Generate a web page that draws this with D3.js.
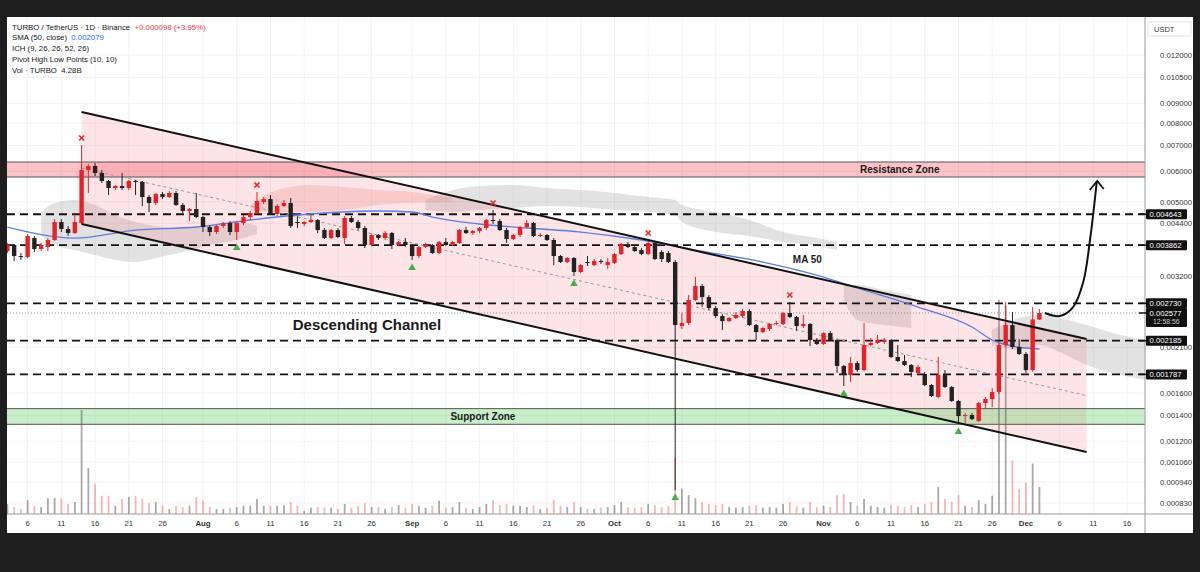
<!DOCTYPE html>
<html><head><meta charset="utf-8">
<script src="https://cdn.jsdelivr.net/npm/d3@7"></script>
<style>body{margin:0;background:#1e1e1e;}svg{display:block}</style>
</head><body><svg id="c" width="1200" height="572"></svg>
<script>
// ---------------- DATA ----------------
const startDay = "2025-07-03"; // first candle, daily bars
const open = [0.003729,0.003865,0.003619,0.003598,0.004029,0.003774,0.003819,0.003982,0.004433,0.004252,
0.004151,0.004407,0.006044,0.006190,0.005937,0.005661,0.005429,0.005494,0.005429,0.005661,
0.005627,0.005145,0.004965,0.005238,0.005145,0.005270,0.004906,0.004734,0.004790,0.004567,
0.004303,0.004176,0.004329,0.004407,0.004176,0.004407,0.004567,0.004678,0.004994,0.005084,
0.004650,0.004877,0.004965,0.004433,0.004381,0.004433,0.004486,0.004226,0.004029,0.004226,
0.004029,0.004540,0.004433,0.004277,0.003865,0.004102,0.004029,0.004151,0.003865,0.003935,
0.003865,0.003619,0.003819,0.003865,0.003685,0.003935,0.003865,0.003911,0.004226,0.004151,
0.004201,0.004277,0.004486,0.004459,0.004226,0.004005,0.004102,0.004303,0.004407,0.004078,
0.004102,0.003982,0.003619,0.003492,0.003576,0.003290,0.003492,0.003430,0.003513,0.003430,
0.003471,0.003663,0.003888,0.003819,0.003751,0.003663,0.003911,0.003707,0.003685,0.003492,
0.002384,0.002427,0.002784,0.003027,0.002834,0.002654,0.002531,0.002456,0.002501,0.002531,
0.002607,0.002398,0.002300,0.002342,0.002413,0.002413,0.002576,0.002516,0.002384,0.002413,
0.002193,0.002142,0.002287,0.002193,0.001879,0.001780,0.001913,0.001834,0.002129,0.002155,
0.002168,0.002193,0.001982,0.001935,0.001890,0.001802,0.001791,0.001677,0.001562,0.001780,
0.001657,0.001525,0.001394,0.001402,0.001353,0.001507,0.001543,0.001609,0.002129,0.002398,
0.002104,0.002018,0.001834,0.002479];
const high = [0.003911,0.003888,0.003685,0.004127,0.004078,0.003911,0.004029,0.004513,0.004513,0.004329,
0.004650,0.007016,0.006265,0.006302,0.006044,0.005694,0.005527,0.005937,0.005694,0.005694,
0.005661,0.005207,0.005270,0.005301,0.005333,0.005333,0.004965,0.004819,0.005270,0.004595,
0.004354,0.004354,0.004433,0.004459,0.004433,0.004622,0.004734,0.005301,0.005145,0.005207,
0.004935,0.005054,0.005115,0.004595,0.004459,0.004622,0.004513,0.004277,0.004252,0.004277,
0.004595,0.004595,0.004486,0.004329,0.004127,0.004127,0.004201,0.004176,0.003958,0.004029,
0.003888,0.003842,0.003911,0.003888,0.003958,0.004029,0.003958,0.004252,0.004303,0.004226,
0.004303,0.004513,0.004762,0.004513,0.004277,0.004127,0.004329,0.004486,0.004433,0.004151,
0.004127,0.004029,0.003641,0.003598,0.003598,0.003451,0.003619,0.003555,0.003555,0.003576,
0.003685,0.003911,0.003935,0.003865,0.003796,0.003982,0.003935,0.003751,0.003729,0.003534,
0.002576,0.002868,0.003193,0.003063,0.002868,0.002686,0.002561,0.002516,0.002592,0.002638,
0.002638,0.002413,0.002370,0.002427,0.002456,0.002592,0.002751,0.002531,0.002546,0.002427,
0.002220,0.002300,0.002314,0.002206,0.001890,0.001982,0.001935,0.002427,0.002220,0.002260,
0.002220,0.002206,0.002129,0.002006,0.001901,0.001890,0.001813,0.001687,0.001982,0.001834,
0.001667,0.001534,0.001419,0.001419,0.001516,0.001562,0.001648,0.002155,0.002751,0.002592,
0.002206,0.002042,0.002670,0.002638];
const low = [0.003685,0.003513,0.003534,0.003576,0.003707,0.003729,0.003729,0.003958,0.004176,0.004078,
0.004127,0.004381,0.005270,0.005832,0.005594,0.005207,0.005365,0.005365,0.005365,0.005207,
0.004877,0.004706,0.004906,0.005084,0.005115,0.004877,0.004678,0.004459,0.004540,0.004176,
0.004078,0.004127,0.004277,0.004102,0.003982,0.004354,0.004486,0.004650,0.004935,0.004622,
0.004595,0.004848,0.004277,0.004277,0.004329,0.004407,0.004151,0.004005,0.004005,0.004029,
0.003888,0.004407,0.004226,0.003796,0.003842,0.003982,0.003982,0.003774,0.003842,0.003819,
0.003534,0.003576,0.003796,0.003663,0.003663,0.003842,0.003842,0.003888,0.004127,0.004102,
0.004151,0.004226,0.004381,0.004201,0.003911,0.003982,0.004053,0.004277,0.004053,0.004053,
0.003958,0.003430,0.003471,0.003471,0.003213,0.003270,0.003410,0.003410,0.003451,0.003349,
0.003451,0.003641,0.003796,0.003707,0.003641,0.003641,0.003534,0.003492,0.003471,0.000897,
0.002342,0.002398,0.002768,0.002670,0.002623,0.002501,0.002328,0.002442,0.002486,0.002501,
0.002384,0.002193,0.002287,0.002314,0.002398,0.002398,0.002501,0.002314,0.002356,0.002116,
0.002129,0.002129,0.002180,0.001802,0.001667,0.001707,0.001813,0.001823,0.002116,0.002142,
0.002142,0.001970,0.001924,0.001879,0.001759,0.001791,0.001667,0.001562,0.001552,0.001648,
0.001516,0.001329,0.001337,0.001361,0.001345,0.001462,0.001471,0.001590,0.002104,0.002079,
0.002006,0.001802,0.001813,0.002471];
const close = [0.003865,0.003619,0.003598,0.004078,0.003774,0.003865,0.003982,0.004433,0.004252,0.004151,
0.004433,0.006044,0.006190,0.005937,0.005661,0.005429,0.005494,0.005429,0.005661,0.005627,
0.005145,0.004965,0.005238,0.005145,0.005270,0.004906,0.004734,0.004790,0.004567,0.004303,
0.004176,0.004329,0.004407,0.004176,0.004407,0.004567,0.004678,0.005024,0.005084,0.004650,
0.004877,0.004965,0.004329,0.004407,0.004433,0.004486,0.004226,0.004029,0.004226,0.004053,
0.004540,0.004433,0.004277,0.003865,0.004102,0.004029,0.004151,0.003865,0.003935,0.003865,
0.003619,0.003819,0.003865,0.003685,0.003935,0.003865,0.003935,0.004226,0.004151,0.004201,
0.004277,0.004486,0.004459,0.004226,0.004005,0.004102,0.004303,0.004407,0.004078,0.004102,
0.003982,0.003619,0.003492,0.003576,0.003290,0.003430,0.003471,0.003513,0.003492,0.003492,
0.003663,0.003888,0.003819,0.003729,0.003663,0.003911,0.003555,0.003555,0.003492,0.002398,
0.002427,0.002784,0.003027,0.002834,0.002654,0.002531,0.002456,0.002501,0.002546,0.002607,
0.002398,0.002300,0.002356,0.002413,0.002427,0.002576,0.002516,0.002384,0.002413,0.002193,
0.002142,0.002287,0.002193,0.001879,0.001780,0.001913,0.001834,0.002129,0.002155,0.002193,
0.002193,0.001982,0.001935,0.001890,0.001813,0.001867,0.001677,0.001571,0.001780,0.001657,
0.001525,0.001394,0.001402,0.001369,0.001507,0.001543,0.001609,0.002129,0.002398,0.002104,
0.002018,0.001834,0.002479,0.002577];
// volume, billions of TURBO
const volume = [1.6,1.1,0.8,2.2,1.3,1.1,2.5,2.5,2.5,1.6,
1.9,16.5,7.3,4.8,2.9,2.9,1.3,2.4,2.7,2.9,
2.4,1.7,1.9,1.3,0.8,1.3,1.1,1.3,2.7,2.1,
1.1,0.8,0.8,1.0,1.1,1.3,1.3,2.4,1.3,1.3,
1.3,1.4,1.9,1.3,0.5,1.0,1.1,1.0,1.0,0.8,
1.6,1.0,1.3,1.7,1.1,1.1,0.8,1.1,1.4,1.0,
1.6,1.3,1.0,1.3,2.1,1.0,1.1,1.9,1.0,0.8,
1.1,1.6,2.2,1.4,1.6,1.3,1.3,1.1,1.4,0.8,
1.0,2.2,1.3,1.1,1.9,1.1,0.8,0.8,1.0,1.1,
1.4,1.9,1.1,1.0,1.1,1.6,1.4,1.1,1.3,9.0,
4.0,3.0,2.5,1.9,1.6,1.4,1.6,1.1,1.0,1.1,
1.3,1.4,1.0,1.1,1.0,1.6,1.9,1.3,1.0,1.9,
1.1,1.3,1.1,3.0,3.2,1.9,1.3,2.4,1.3,1.1,
1.0,1.4,1.3,1.1,1.4,1.1,1.6,1.9,4.3,2.4,
1.9,3.0,1.3,1.1,2.2,1.6,2.9,34,33,8.5,
4.0,5.0,8.0,4.28];

// SMA(50) at sample days (day index from startDay)
const smaDays   = [0,10,19,28,36,43,55,60,63,70,77,85,94,102,112,121,126,135,143,146,149,153];
const smaValues = [0.004303,0.004029,0.004226,0.004303,0.004486,0.004622,0.004734,0.004706,0.004567,0.004381,
0.004277,0.004176,0.003982,0.003751,0.003492,0.003193,0.002991,0.002670,0.002370,0.002193,0.002116,0.002079];

// Ichimoku cloud pieces: [day, upper, lower]
const cloudGray1 = [[5,0.004706,0.004102],[7,0.004965,0.003865],[10,0.005054,0.003751],[13,0.004906,0.003641],[16,0.004622,0.003534],[19,0.004433,0.003492],[22,0.004329,0.003576],[26,0.004277,0.003707],[30,0.004354,0.003865],[34,0.004433,0.003982],[37,0.004329,0.004127]];
const cloudPink1 = [[36,0.004906,0.004762],[40,0.005365,0.004706],[45,0.005527,0.004706],[50,0.005462,0.004762],[55,0.005365,0.004906],[60,0.005301,0.004965],[66,0.005115,0.004994]];
const cloudGray2 = [[62,0.005054,0.004762],[66,0.005365,0.004706],[70,0.005494,0.004762],[75,0.005527,0.004819],[80,0.005429,0.004877],[85,0.005365,0.004848],[90,0.005270,0.004762],[95,0.005145,0.004706],[99,0.005054,0.004622],[100,0.004906,0.004433],[105,0.004706,0.004176],[110,0.004486,0.004078],[115,0.004176,0.003935],[120,0.004029,0.003842],[123,0.003935,0.003751]];
const cloudGray3 = [[124,0.003045,0.002784],[126,0.003045,0.002471],[130,0.002955,0.002398],[134,0.002868,0.002356]];
const cloudGray4 = [[146,0.002328,0.002129],[150,0.002501,0.002066],[153,0.002546,0.002129],[156,0.002501,0.002042],[160,0.002398,0.001890],[165,0.002260,0.001780],[169,0.002193,0.001728]];

// Pivot points (day index)
const pivotHighDays = [11,37,72,95,116];
const pivotLowDays  = [34,60,84,99,124,141];

// Drawing-tool values
const channelDays  = [11,160];
const channelUpper = [0.008542,0.002206];
const channelMid   = [0.006117,0.001575];
const channelLower = [0.004381,0.001125];
const resistanceZone = [0.005797,0.006340];
const supportZone    = [0.001327,0.001457];
const levels = [0.004643,0.003862,0.002730,0.002185,0.001787];
const lastPrice = 0.002577;
const arrowDays   = [153.8,156,158,159.5,160.5,161.5];
const arrowPrices = [0.002576,0.002531,0.002670,0.003100,0.003982,0.005627];

const priceTicks = [0.012,0.0105,0.009,0.008,0.007,0.006,0.005,0.0044,0.0032,0.0021,0.0016,0.0014,0.0012,0.00106,0.00094,0.00083];
const timeTicks = ["2025-07-06","2025-07-11","2025-07-16","2025-07-21","2025-07-26","2025-08-01","2025-08-06","2025-08-11","2025-08-16","2025-08-21","2025-08-26",
"2025-09-01","2025-09-06","2025-09-11","2025-09-16","2025-09-21","2025-09-26","2025-10-01","2025-10-06","2025-10-11","2025-10-16","2025-10-21","2025-10-26",
"2025-11-01","2025-11-06","2025-11-11","2025-11-16","2025-11-21","2025-11-26","2025-12-01","2025-12-06","2025-12-11","2025-12-16"];
const monthNames = ["Jan","Feb","Mar","Apr","May","Jun","Jul","Aug","Sep","Oct","Nov","Dec"];

// ---------------- LAYOUT ----------------
const P = {x0:7, y0:17, x1:1193, y1:533, plotR:1145, axisT:514};
const FONT = "'Liberation Sans', Arial, sans-serif";
const svg = d3.select("#c");
const t0 = new Date(startDay+"T00:00:00Z");
const dayDate = i => new Date(t0.getTime() + i*864e5);
const x = d3.scaleUtc().domain([t0, dayDate(166)]).range([7.4, 1127.1]);
const y = d3.scaleLog().domain([0.00083, 0.012]).range([503, 55]);
const yv = d3.scaleLinear().domain([0, 20]).range([P.axisT, P.axisT - 126]);
const xd = i => x(dayDate(i));

svg.append("rect").attr("width",1200).attr("height",572).attr("fill","#1e1e1e");
svg.append("rect").attr("x",P.x0).attr("y",P.y0).attr("width",P.x1-P.x0).attr("height",P.y1-P.y0).attr("fill","#fff");

svg.append("defs").append("clipPath").attr("id","plot").append("rect")
  .attr("x",P.x0).attr("y",P.y0).attr("width",P.plotR-P.x0).attr("height",P.axisT-P.y0);
const g = svg.append("g").attr("clip-path","url(#plot)");

// grid
const tickDates = timeTicks.map(s=>new Date(s+"T00:00:00Z"));
g.selectAll(".vg").data(tickDates).join("line").attr("x1",d=>x(d)).attr("x2",d=>x(d))
  .attr("y1",P.y0).attr("y2",P.axisT).attr("stroke","#f1f1f4").attr("stroke-width",1);
g.selectAll(".hg").data(priceTicks).join("line").attr("x1",P.x0).attr("x2",P.plotR)
  .attr("y1",d=>y(d)).attr("y2",d=>y(d)).attr("stroke","#f1f1f4").attr("stroke-width",1);

// cloud
const cloudArea = d3.area().x(d=>xd(d[0])).y0(d=>y(d[2])).y1(d=>y(d[1])).curve(d3.curveMonotoneX);
[[cloudGray1,"rgba(150,150,156,0.28)"],[cloudPink1,"rgba(235,120,120,0.22)"],[cloudGray2,"rgba(150,150,156,0.28)"],
 [cloudGray3,"rgba(150,150,156,0.28)"],[cloudGray4,"rgba(150,150,156,0.28)"]].forEach(([d,c])=>{
  g.append("path").attr("d",cloudArea(d)).attr("fill",c);
});

// channel fill
const chPts = channelDays.map((d,i)=>[xd(d), y(channelUpper[i])]).concat(
  channelDays.slice().reverse().map((d,k)=>{const i=channelDays.length-1-k;return [xd(d), y(channelLower[i])];}));
g.append("path").attr("d","M"+chPts.map(p=>p.join(",")).join("L")+"Z").attr("fill","rgba(242,54,69,0.13)");

// zones
function zone(z, fill){
  g.append("rect").attr("x",P.x0).attr("width",P.plotR-P.x0).attr("y",y(z[1])).attr("height",y(z[0])-y(z[1])).attr("fill",fill);
  z.forEach(v=>g.append("line").attr("x1",P.x0).attr("x2",P.plotR).attr("y1",y(v)).attr("y2",y(v)).attr("stroke","#555").attr("stroke-width",1));
}
zone(resistanceZone,"rgba(242,54,69,0.30)");
zone(supportZone,"rgba(76,200,80,0.30)");

// volume
g.selectAll(".vol").data(volume).join("rect")
  .attr("x",(v,i)=>xd(i)-0.9).attr("width",1.8)
  .attr("y",v=>yv(v)).attr("height",v=>P.axisT-yv(v))
  .attr("fill",(v,i)=>close[i]>=open[i]?"rgba(110,110,110,0.6)":"rgba(240,90,90,0.45)");

// dashed levels
g.selectAll(".lvl").data(levels).join("line").attr("x1",P.x0).attr("x2",P.plotR)
  .attr("y1",d=>y(d)).attr("y2",d=>y(d)).attr("stroke","#111").attr("stroke-width",1.8).attr("stroke-dasharray","8,5");
g.append("line").attr("x1",P.x0).attr("x2",P.plotR).attr("y1",y(lastPrice)).attr("y2",y(lastPrice))
  .attr("stroke","#777").attr("stroke-width",0.8).attr("stroke-dasharray","1,2");

// channel midline
g.append("line").attr("x1",xd(channelDays[0])).attr("x2",xd(channelDays[1])).attr("y1",y(channelMid[0])).attr("y2",y(channelMid[1]))
  .attr("stroke","#999").attr("stroke-width",1).attr("stroke-dasharray","3,3");

// SMA
g.append("path").attr("d",d3.line().x((d,i)=>xd(smaDays[i])).y(d=>y(d)).curve(d3.curveMonotoneX)(smaValues))
  .attr("fill","none").attr("stroke","#5b7ee0").attr("stroke-width",1.3);

// candles
const RED="#e82127", BLK="#222";
const cg = g.append("g");
open.forEach((o,i)=>{
  const c=close[i], up=c>=o, col=up?RED:BLK, cx=xd(i);
  cg.append("line").attr("x1",cx).attr("x2",cx).attr("y1",y(high[i])).attr("y2",y(low[i])).attr("stroke",col).attr("stroke-width",1);
  const yt=y(Math.max(o,c)), yb=y(Math.min(o,c));
  cg.append("rect").attr("x",cx-2.2).attr("width",4.4).attr("y",yt).attr("height",Math.max(1,yb-yt)).attr("fill",col);
});

// channel lines
[channelUpper,channelLower].forEach(arr=>{
  g.append("line").attr("x1",xd(channelDays[0])).attr("x2",xd(channelDays[1])).attr("y1",y(arr[0])).attr("y2",y(arr[1]))
   .attr("stroke","#111").attr("stroke-width",2);
});

// pivots
pivotHighDays.forEach(i=>{
  const cx=xd(i), cy=y(high[i])-7;
  g.append("path").attr("d",`M${cx-2.5},${cy-2.5}L${cx+2.5},${cy+2.5}M${cx+2.5},${cy-2.5}L${cx-2.5},${cy+2.5}`)
   .attr("stroke","#e8262b").attr("stroke-width",1.6);
});
pivotLowDays.forEach(i=>{
  const cx=xd(i), cy=y(low[i])+7;
  g.append("path").attr("d",`M${cx},${cy-3.5}L${cx+3.8},${cy+3}L${cx-3.8},${cy+3}Z`).attr("fill","#43b047");
});

// annotations
function label(txt, day, price, size, anchor){
  return g.append("text").attr("x",xd(day)).attr("y",y(price)).attr("text-anchor",anchor)
    .attr("font-family",FONT).attr("font-weight","bold").attr("font-size",size).attr("fill","#1a1a1a").text(txt);
}
label("Descending Channel", 42.3, 0.002328, 15, "start");
label("MA 50", 118.6, 0.003471, 10, "middle");
label("Resistance Zone", 132.3, Math.sqrt(resistanceZone[0]*resistanceZone[1]), 10, "middle").attr("dy","0.35em");
label("Support Zone", 70.5, Math.sqrt(supportZone[0]*supportZone[1]), 10, "middle").attr("dy","0.35em");

// arrow
const arrowLine = d3.line().x((d,i)=>xd(arrowDays[i])).y(d=>y(d)).curve(d3.curveCatmullRom);
svg.append("path").attr("d",arrowLine(arrowPrices)).attr("fill","none").attr("stroke","#111").attr("stroke-width",2);
{
  const n=arrowDays.length, tx=xd(arrowDays[n-1]), ty=y(arrowPrices[n-1]);
  svg.append("path").attr("d",`M${tx-7},${ty+8}L${tx+0.5},${ty-1}L${tx+7},${ty+7}`).attr("fill","none")
    .attr("stroke","#111").attr("stroke-width",1.8);
}

// axes frame
svg.append("line").attr("x1",P.plotR).attr("x2",P.plotR).attr("y1",P.y0).attr("y2",P.y1).attr("stroke","#9a9a9a");
svg.append("line").attr("x1",P.x0).attr("x2",P.x1).attr("y1",P.axisT).attr("y2",P.axisT).attr("stroke","#9a9a9a");

// time labels
svg.selectAll(".tl").data(tickDates).join("text").attr("x",d=>x(d)).attr("y",526).attr("text-anchor","middle")
  .attr("font-family",FONT).attr("font-size",7.8).attr("fill","#333")
  .attr("font-weight",d=>d.getUTCDate()===1?"bold":"normal")
  .text(d=>d.getUTCDate()===1?monthNames[d.getUTCMonth()]:String(d.getUTCDate()));

// price labels
const fmt = d3.format(".6f");
svg.selectAll(".pl").data(priceTicks).join("text").attr("x",1160).attr("y",d=>y(d)).attr("dy","0.35em")
  .attr("font-family",FONT).attr("font-size",7.7).attr("fill","#333").text(d=>fmt(d));
svg.append("rect").attr("x",1148).attr("y",22).attr("width",43).attr("height",14).attr("fill","#fff").attr("stroke","#e3e3e8");
svg.append("text").attr("x",1154).attr("y",32).attr("font-family",FONT).attr("font-size",7.5).attr("fill","#333").text("USDT");

function tag(v, sub){
  const cy=y(v), h = sub?19:10;
  svg.append("line").attr("x1",1139).attr("x2",1146).attr("y1",cy).attr("y2",cy).attr("stroke","#111").attr("stroke-width",1.5);
  svg.append("rect").attr("x",1146).attr("y",cy-5).attr("width",41).attr("height",h).attr("fill","#111").attr("rx",1);
  svg.append("text").attr("x",1149.5).attr("y",cy).attr("dy","0.35em").attr("font-family",FONT).attr("font-size",7.7).attr("fill","#fff").text(fmt(v));
  if(sub) svg.append("text").attr("x",1153).attr("y",cy+9).attr("dy","0.35em").attr("font-family",FONT).attr("font-size",6.8).attr("fill","#ccc").text(sub);
}
levels.forEach(v=>tag(v));
tag(lastPrice,"12:58:56");

// legend
const legend = [
  [["TURBO / TetherUS · 1D · Binance","#131722"],["  +0.000098 (+3.95%)","#f23645"]],
  [["SMA (50, close)","#131722"],["  0.002079","#2962ff"]],
  [["ICH (9, 26, 26, 52, 26)","#131722"]],
  [["Pivot High Low Points (10, 10)","#131722"]],
  [["Vol · TURBO","#131722"],["  4.28B","#131722"]]
];
legend.forEach((parts,k)=>{
  const t = svg.append("text").attr("x",12).attr("y",29.5+k*10.8).attr("font-family",FONT).attr("font-size",7.8).attr("xml:space","preserve");
  parts.forEach(([s,c])=>t.append("tspan").attr("fill",c).text(s));
});
</script></body></html>
